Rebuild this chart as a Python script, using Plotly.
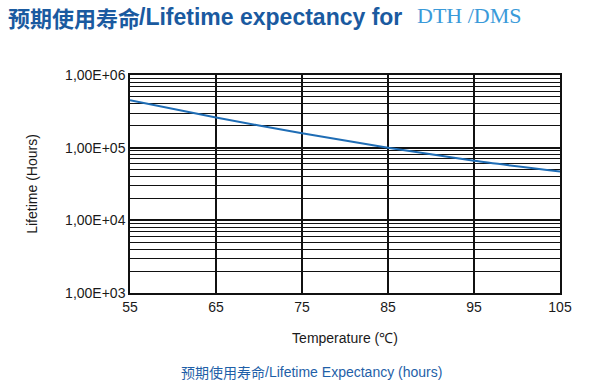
import plotly.graph_objects as go

# Data
temperature = [55, 65, 75, 85, 95, 105]
lifetime_hours = [4.5e5, 2.6e5, 1.58e5, 1.0e5, 6.6e4, 4.7e4]

x_ticks = [55, 65, 75, 85, 95, 105]
y_tickvals = [1e3, 1e4, 1e5, 1e6]
y_ticktext = ["1,00E+03", "1,00E+04", "1,00E+05", "1,00E+06"]

title_cn = "预期使用寿命"
title_en = "/Lifetime expectancy for"
title_model = "DTH /DMS"
caption_cn = "预期使用寿命"
caption_en = "/Lifetime Expectancy (hours)"
x_title = "Temperature (℃)"
y_title = "Lifetime (Hours)"

W, H = 600, 386
L, R, T, B = 130, 40, 75, 93
pw, ph = W - L - R, H - T - B


def px_x(px):
    return (px - L) / pw


def px_y(py):
    return (H - B - py) / ph


fig = go.Figure()
fig.add_trace(go.Scatter(
    x=temperature, y=lifetime_hours, mode="lines",
    line=dict(color="#1f6db5", width=2, shape="spline", smoothing=0.6),
    showlegend=False, hoverinfo="skip",
))

font_tick = dict(family="Liberation Sans, Arial, sans-serif", size=14, color="#1a1a1a")

fig.update_layout(
    width=W, height=H,
    margin=dict(l=L, r=R, t=T, b=B, autoexpand=False),
    paper_bgcolor="white", plot_bgcolor="white",
    xaxis=dict(
        range=[55, 105], tickvals=x_ticks, ticks="",
        showgrid=True, gridcolor="#111", gridwidth=1.5,
        showline=True, linecolor="#111", linewidth=1.5, mirror=True,
        zeroline=False, tickfont=font_tick,
        title=dict(text=x_title, font=font_tick, standoff=20),
    ),
    yaxis=dict(
        type="log", range=[3, 6], tickvals=y_tickvals, ticktext=y_ticktext, ticks="",
        showgrid=True, gridcolor="#111", gridwidth=1.5,
        minor=dict(showgrid=True, gridcolor="#111", gridwidth=1.3, dtick="D1"),
        showline=True, linecolor="#111", linewidth=1.5, mirror=True,
        zeroline=False, tickfont=font_tick,
        title=dict(text=y_title, font=font_tick, standoff=24),
    ),
)

fig.add_annotation(
    text="<b>" + title_cn + "</b>",
    xref="paper", yref="paper", x=px_x(6), y=px_y(17),
    xanchor="left", yanchor="middle", showarrow=False,
    font=dict(family="Noto Sans CJK SC, sans-serif", size=22, color="#1a5aa0"),
)
fig.add_annotation(
    text="<b>" + title_en + "</b>",
    xref="paper", yref="paper", x=px_x(137), y=px_y(17),
    xanchor="left", yanchor="middle", showarrow=False,
    font=dict(family="Liberation Sans, Arial, sans-serif", size=23, color="#1a5aa0"),
)
fig.add_annotation(
    text=title_model,
    xref="paper", yref="paper", x=px_x(415), y=px_y(16),
    xanchor="left", yanchor="middle", showarrow=False,
    font=dict(family="Liberation Serif, serif", size=22, color="#3a9ad9"),
)
fig.add_annotation(
    text=caption_cn,
    xref="paper", yref="paper", x=px_x(179), y=px_y(372),
    xanchor="left", yanchor="middle", showarrow=False,
    font=dict(family="Noto Sans CJK SC, sans-serif", size=14, color="#1f5fa8"),
)
fig.add_annotation(
    text=caption_en,
    xref="paper", yref="paper", x=px_x(263), y=px_y(372),
    xanchor="left", yanchor="middle", showarrow=False,
    font=dict(family="Liberation Sans, Arial, sans-serif", size=14, color="#1f5fa8"),
)

fig.write_html("out.html", config={"displayModeBar": False},
               post_script="document.body.style.margin='0';")
